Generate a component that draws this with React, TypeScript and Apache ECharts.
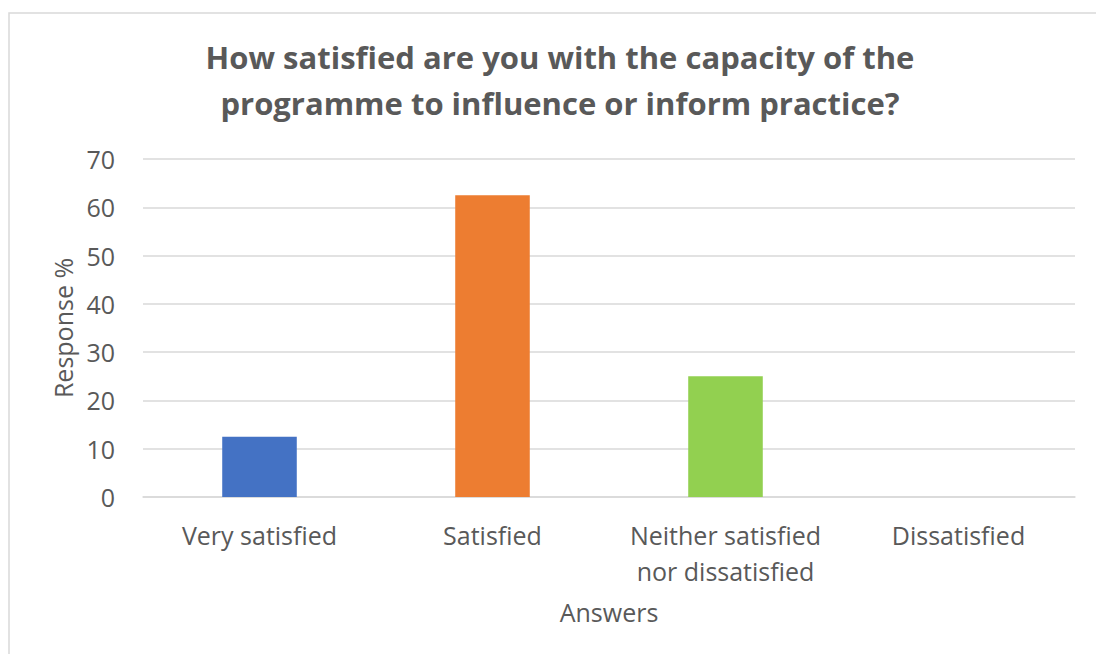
import React, { useEffect, useRef } from "react";
import * as echarts from "echarts";

const categories = ["Very satisfied", "Satisfied", "Neither satisfied\nnor dissatisfied", "Dissatisfied"];
const values = [12.5, 62.5, 25, 0];
const barColors = ["#4472C4", "#ED7D31", "#92D050", "#A5A5A5"];
const titleText = "How satisfied are you with the capacity of the\nprogramme to influence or inform practice?";
const yAxisName = "Response %";
const xAxisName = "Answers";

const FONT = "'Open Sans', Lato, sans-serif";

export default function App() {
  const ref = useRef<HTMLDivElement>(null);
  useEffect(() => {
    if (!ref.current) return;
    const chart = echarts.init(ref.current, null, { renderer: "svg" });
    chart.setOption({
      animation: false,
      backgroundColor: "#ffffff",
      textStyle: { fontFamily: FONT },
      graphic: [
        {
          type: "rect",
          shape: { x: 9, y: 13, width: 1200, height: 800 },
          style: { fill: "none", stroke: "#d9d9d9", lineWidth: 1.5 },
          silent: true,
        },
      ],
      title: {
        text: titleText,
        left: 555,
        top: 29,
        textAlign: "center",
        textStyle: {
          fontFamily: FONT,
          fontSize: 31,
          fontWeight: "bold",
          color: "#595959",
          lineHeight: 46,
        },
      },
      grid: { left: 143, right: 21, top: 159, bottom: 157 },
      xAxis: {
        type: "category",
        data: categories,
        name: xAxisName,
        nameLocation: "middle",
        nameGap: 102,
        nameTextStyle: { fontFamily: FONT, fontSize: 25, color: "#595959" },
        axisLine: { show: true, lineStyle: { color: "#d9d9d9", width: 1.5 } },
        axisTick: { show: false },
        axisLabel: {
          fontFamily: FONT,
          fontSize: 25,
          color: "#595959",
          lineHeight: 36,
          margin: 20,
          interval: 0,
        },
      },
      yAxis: {
        type: "value",
        min: 0,
        max: 70,
        interval: 10,
        name: yAxisName,
        nameLocation: "middle",
        nameGap: 68,
        nameRotate: 90,
        nameTextStyle: { fontFamily: FONT, fontSize: 25, color: "#595959" },
        axisLine: { show: false },
        axisTick: { show: false },
        axisLabel: { fontFamily: FONT, fontSize: 25, color: "#595959", margin: 28 },
        splitLine: { lineStyle: { color: "#d9d9d9", width: 1.5 } },
      },
      series: [
        {
          type: "bar",
          barWidth: "32%",
          data: values.map((v, i) => ({ value: v, itemStyle: { color: barColors[i] } })),
        },
      ],
    });
    return () => chart.dispose();
  }, []);
  return (
    <div
      ref={ref}
      style={{ position: "absolute", left: 0, top: 0, width: 1096, height: 654 }}
    />
  );
}
